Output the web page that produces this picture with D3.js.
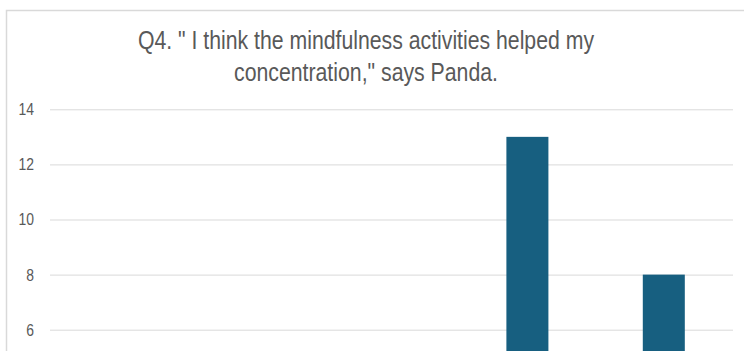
<!DOCTYPE html>
<html>
<head>
<meta charset="utf-8">
<script src="https://cdn.jsdelivr.net/npm/d3@7"></script>
<style>
  html, body { margin: 0; padding: 0; background: #fff; }
  svg { display: block; }
  text { font-family: "Liberation Sans", Arial, sans-serif; fill: #595959; }
</style>
</head>
<body>
<svg id="chart" width="744" height="351"></svg>
<script>
// Data (categories whose bars stay below 6 are cropped out of the visible picture; estimated)
const titleLines = ["Q4. \" I think the mindfulness activities helped my", "concentration,\" says Panda."];
const categories = ["Strongly disagree", "Disagree", "Neutral", "Agree", "Strongly agree"];
const values = [0, 0, 1, 13, 8];
const yTicks = [6, 8, 10, 12, 14];   // tick labels visible in the frame

const svg = d3.select("#chart");

// chart area border (extends beyond visible frame)
svg.append("rect")
  .attr("x", 6.5).attr("y", 10.5)
  .attr("width", 900).attr("height", 600)
  .attr("fill", "#fff")
  .attr("stroke", "#d9d9d9").attr("stroke-width", 1.5);

const x = d3.scaleBand().domain(categories).range([50, 732])
  .paddingInner(0.692).paddingOuter(0.346);
const y = d3.scaleLinear().domain([0, 14]).range([495, 109.3]);

// gridlines + labels
const gAxis = svg.append("g").attr("transform", "translate(50,0)")
  .call(d3.axisLeft(y).tickValues(yTicks).tickSize(-(733 - 50)).tickFormat(d3.format("d")));
gAxis.select(".domain").remove();
gAxis.selectAll(".tick line").attr("stroke", "#d9d9d9").attr("stroke-width", 1);
gAxis.selectAll(".tick text")
  .attr("x", 0)
  .attr("transform", "translate(-16,0) scale(0.82,1)")
  .attr("font-size", 17).attr("fill", "#595959")
  .style("font-family", "\"Liberation Sans\", Arial, sans-serif");

// bars
svg.append("g").selectAll("rect").data(values).join("rect")
  .attr("x", (d, i) => x(categories[i]))
  .attr("y", d => y(d))
  .attr("width", x.bandwidth())
  .attr("height", d => y(0) - y(d))
  .attr("fill", "#175f80");

// title
const lineWidths = [456, 264];
titleLines.forEach((line, i) => {
  svg.append("text")
    .attr("x", 366).attr("y", 49 + i * 32)
    .attr("text-anchor", "middle")
    .attr("font-size", 25)
    .attr("fill", "#595959")
    .attr("textLength", lineWidths[i])
    .attr("lengthAdjust", "spacingAndGlyphs")
    .text(line);
});
</script>
</body>
</html>
